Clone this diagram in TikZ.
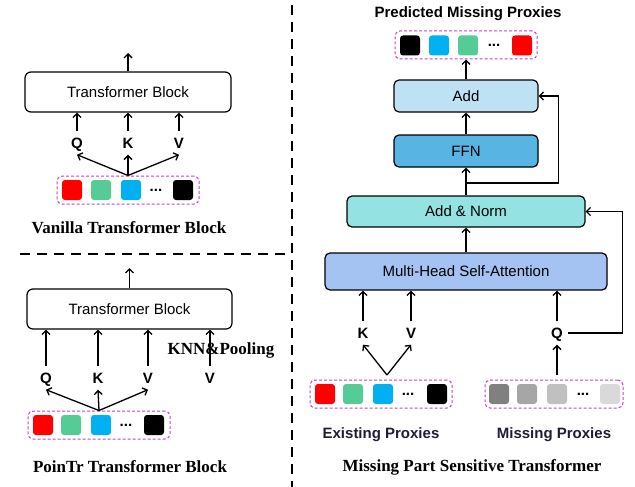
\documentclass[tikz,border=0pt]{standalone}
\usepackage{fontspec}
\setmainfont{Liberation Sans}
\newfontfamily\titlefont{Liberation Serif}
\usetikzlibrary{arrows.meta,calc}
\definecolor{grpc}{RGB}{190,70,190}
\definecolor{sqred}{RGB}{255,0,0}
\definecolor{sqgreen}{RGB}{85,203,150}
\definecolor{sqblue}{RGB}{0,176,240}
\definecolor{addc}{RGB}{190,226,244}
\definecolor{ffnc}{RGB}{88,180,226}
\definecolor{normc}{RGB}{148,226,226}
\definecolor{mhsac}{RGB}{164,194,242}
\definecolor{g1c}{RGB}{128,128,128}
\definecolor{g2c}{RGB}{166,166,166}
\definecolor{g3c}{RGB}{192,192,192}
\definecolor{g4c}{RGB}{217,217,217}
\definecolor{navy}{RGB}{30,30,50}
\begin{document}
\begin{tikzpicture}[x=1pt,y=-1pt,
  arr/.style={-{Straight Barb[length=4pt,width=8pt]}, line width=1.3pt},
  blk/.style={draw, line width=1.2pt, rounded corners=6pt, inner sep=0pt, font=\fontsize{15}{18}\selectfont},
  sq/.style={rounded corners=3pt, minimum size=20pt, inner sep=0pt},
  grp/.style={draw=grpc, line width=1pt, rounded corners=5pt, dash pattern=on 3pt off 2pt, inner sep=0pt},
  lab/.style={font=\fontsize{15}{18}\selectfont\bfseries, text height=11pt, text depth=0pt, inner ysep=6pt, inner xsep=5pt},
  ttl/.style={font=\titlefont\fontsize{17}{20}\selectfont\bfseries},
  sub/.style={font=\fontsize{15}{18}\selectfont\bfseries, text=navy},
  sep/.style={line width=2.5pt, dash pattern=on 10pt off 7pt},
  dotsn/.style={font=\fontsize{15}{18}\selectfont\bfseries, inner sep=0pt}
]
\useasboundingbox (0,0) rectangle (635,487);

% separators
\draw[sep] (292,5) -- (292,487);
\draw[sep] (20,254) -- (292,254);

% ---------- Vanilla ----------
\node[blk, minimum width=206pt, minimum height=40pt] (tb1) at (128,92) {Transformer Block};
\coordinate (o1) at (128,53);
\draw[arr] (tb1.north) -- (o1);
\node[lab] (q1) at (77,143) {Q};
\node[lab] (k1) at (128,143) {K};
\node[lab] (v1) at (179,143) {V};
\foreach \n in {q1,k1,v1} \draw[arr] (\n.north) -- (\n.north |- tb1.south);
\node[grp, minimum width=142pt, minimum height=28pt] (g1) at (128,190) {};
\node[sq, fill=sqred] (g1a) at (72,190) {};
\node[sq, fill=sqgreen] (g1b) at (101,190) {};
\node[sq, fill=sqblue] (g1c) at (131,190) {};
\node[dotsn] (g1d) at (156,190) {...};
\node[sq, fill=black] (g1e) at (183,190) {};
\foreach \n in {q1,k1,v1} \draw[arr] (g1.north) -- (\n.south);
\node[ttl] (t1) at (129,228) {Vanilla Transformer Block};

% ---------- PoinTr ----------
\node[blk, minimum width=205pt, minimum height=40pt] (tb2) at (129.5,309) {Transformer Block};
\coordinate (o2) at (129.5,268);
\draw[arr] (tb2.north) -- (o2);
\node[ttl] (knn) at (221,350) {KNN\&Pooling};
\node[lab] (q2) at (46,378) {Q};
\node[lab] (k2) at (98,378) {K};
\node[lab] (v2) at (148,378) {V};
\node[lab] (v3) at (210,378) {V};
\foreach \n in {q2,k2,v2,v3} \draw[arr] (\n.north) -- (\n.north |- tb2.south);
\node[grp, minimum width=142pt, minimum height=28pt] (g2) at (99,425) {};
\node[sq, fill=sqred] (g2a) at (43,425) {};
\node[sq, fill=sqgreen] (g2b) at (71,425) {};
\node[sq, fill=sqblue] (g2c) at (101,425) {};
\node[dotsn] (g2d) at (126,425) {...};
\node[sq, fill=black] (g2e) at (154,425) {};
\foreach \n in {q2,k2,v2} \draw[arr] (g2.north) -- (\n.south);
\node[ttl] (t2) at (130,467) {PoinTr Transformer Block};

% ---------- Missing Part Sensitive Transformer ----------
\node[sub, text=black] (pm) at (468,14) {Predicted Missing Proxies};
\node[grp, minimum width=142pt, minimum height=28pt] (g3) at (466,45) {};
\node[sq, fill=black] (g3a) at (410,45.5) {};
\node[sq, fill=sqblue] (g3b) at (439,45.5) {};
\node[sq, fill=sqgreen] (g3c) at (468,45.5) {};
\node[dotsn] (g3d) at (494,45.5) {...};
\node[sq, fill=sqred] (g3e) at (522,45.5) {};

\node[blk, fill=addc, rounded corners=5pt, minimum width=144pt, minimum height=32pt] (add) at (466,96) {Add};
\node[blk, fill=ffnc, rounded corners=5pt, minimum width=144pt, minimum height=32pt] (ffn) at (466,151) {FFN};
\node[blk, fill=normc, rounded corners=5pt, minimum width=238pt, minimum height=31pt] (norm) at (466,211.5) {Add \& Norm};
\node[blk, fill=mhsac, rounded corners=5pt, minimum width=282pt, minimum height=37pt] (mhsa) at (466,271.5) {Multi-Head Self-Attention};

\draw[arr] (add.north) -- (g3.south);
\draw[arr] (ffn.north) -- (add.south);
\draw[arr] (norm.north) -- (ffn.south);
\draw[arr] (mhsa.north) -- (norm.south);
\coordinate (br1) at ($(norm.north)!0.45!(ffn.south)$);
\draw[arr] (br1) -| ([xshift=20pt]add.east) -- (add.east);

\node[lab] (k3) at (363,333) {K};
\node[lab] (v4) at (411,333) {V};
\node[lab] (q3) at (557,333) {Q};
\foreach \n in {k3,v4,q3} \draw[arr] (\n.north) -- (\n.north |- mhsa.south);
\draw[arr] (q3.east) -| ([xshift=37pt]norm.east) -- (norm.east);

\node[grp, minimum width=142pt, minimum height=28pt] (g4) at (381,394) {};
\node[sq, fill=sqred] (g4a) at (325,394) {};
\node[sq, fill=sqgreen] (g4b) at (353,394) {};
\node[sq, fill=sqblue] (g4c) at (383,394) {};
\node[dotsn] (g4d) at (408,394) {...};
\node[sq, fill=black] (g4e) at (437,394) {};
\coordinate (f4) at (387,375);
\draw[arr] (f4) -- (k3.south);
\draw[arr] (f4) -- (v4.south);

\node[grp, minimum width=138pt, minimum height=28pt] (g5) at (554,394) {};
\node[sq, fill=g1c] (g5a) at (499,394) {};
\node[sq, fill=g2c] (g5b) at (527,394) {};
\node[sq, fill=g3c] (g5c) at (557,394) {};
\node[dotsn] (g5d) at (583,394) {...};
\node[sq, fill=g4c] (g5e) at (610,394) {};
\draw[arr, shorten <=5pt] (q3.south |- g5.north) -- (q3.south);

\node[sub] (ep) at (381,435) {Existing Proxies};
\node[sub] (mp) at (554,435) {Missing Proxies};
\node[ttl] (t3) at (472,467) {Missing Part Sensitive Transformer};
\end{tikzpicture}
\end{document}
